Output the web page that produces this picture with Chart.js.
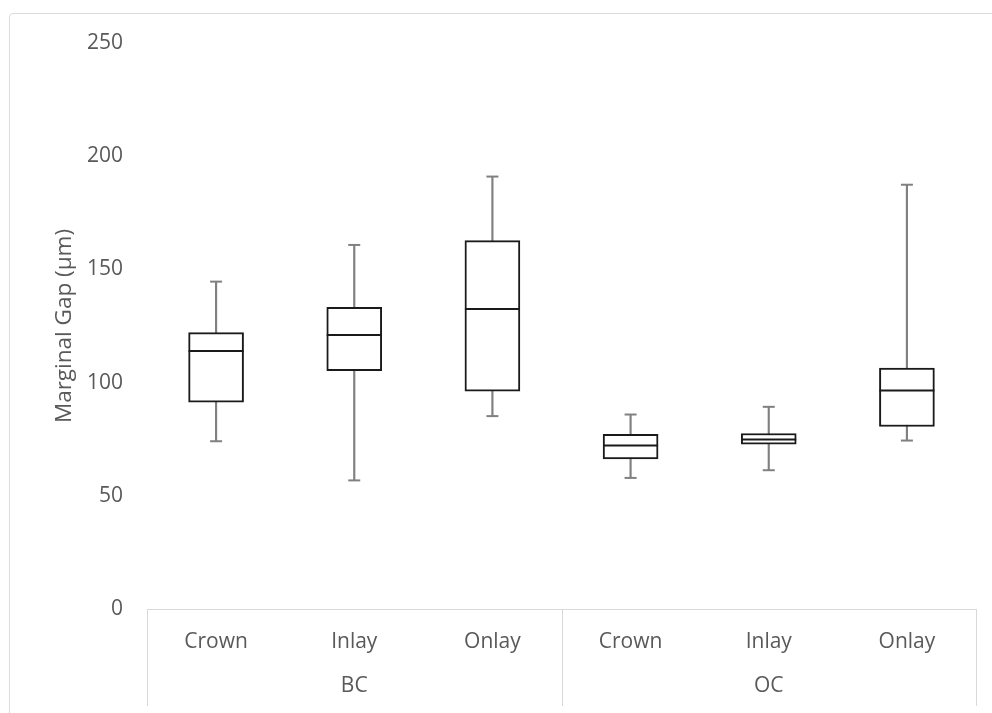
<!DOCTYPE html>
<html>
<head>
<meta charset="utf-8">
<script src="https://cdn.jsdelivr.net/npm/chart.js@4"></script>
<style>
    html, body { margin: 0; padding: 0; background: #fff; overflow: hidden; }
    #wrap { position: relative; width: 992px; height: 713px; }
    #frame { position: absolute; left: 9px; top: 13px; width: 1000px; height: 720px;
             border: 1px solid #dcdcdc; border-radius: 4px; }
    canvas { position: absolute; left: 0; top: 0; }
</style>
</head>
<body>
<div id="wrap">
    <div id="frame"></div>
    <canvas id="myChart" width="992" height="713"></canvas>
</div>
<script>
const categories = ['Crown', 'Inlay', 'Onlay', 'Crown', 'Inlay', 'Onlay'];
const groups = ['BC', 'OC'];

// box plot values (µm)
const whiskerLow = [74.1, 56.8, 85.2, 57.9, 61.3, 74.4];
const quartile1 = [91.4, 105.3, 96.2, 66.3, 72.8, 80.6];
const medians = [114.0, 121.0, 132.5, 72.2, 74.9, 96.5];
const quartile3 = [122.1, 133.3, 162.7, 77.1, 77.5, 106.4];
const whiskerHigh = [144.6, 160.8, 191.0, 85.9, 89.3, 187.4];

const yMin = 0;
const yMax = 250;
const yStep = 50;

const textColor = '#595959';
const lineGray = '#d9d9d9';
const whiskerColor = '#808080';
const boxColor = '#1a1a1a';

// vertical separators of the two-level category axis
const separators = {
    id: 'separators',
    afterDraw(chart) {
        const x = chart.scales.x;
        const ctx = chart.ctx;
        const top = chart.chartArea.bottom;
        const edges = [-0.5, categories.length / 2 - 0.5, categories.length - 0.5];
        ctx.save();
        ctx.strokeStyle = lineGray;
        ctx.lineWidth = 1;
        edges.forEach(v => {
            const px = Math.round(x.getPixelForValue(v)) + 0.5;
            ctx.beginPath();
            ctx.moveTo(px, top);
            ctx.lineTo(px, top + 97);
            ctx.stroke();
        });
        ctx.restore();
    }
};

function pointLine(data, color, radius, width) {
    return {
        type: 'line',
        data: data,
        showLine: false,
        pointStyle: 'line',
        pointRadius: radius,
        pointHoverRadius: radius,
        pointBorderColor: color,
        pointBorderWidth: width,
        order: 0
    };
}

const ctx = document.getElementById('myChart').getContext('2d');
new Chart(ctx, {
    type: 'bar',
    data: {
        labels: categories,
        datasets: [
            pointLine(medians, boxColor, 27.5, 2),
            pointLine(whiskerHigh, whiskerColor, 6, 2),
            pointLine(whiskerLow, whiskerColor, 6, 2),
            {
                data: quartile1.map((q, i) => [q, quartile3[i]]),
                backgroundColor: '#ffffff',
                borderColor: boxColor,
                borderWidth: 2,
                borderSkipped: false,
                barThickness: 55,
                grouped: false,
                order: 1
            },
            {
                data: whiskerLow.map((w, i) => [w, whiskerHigh[i]]),
                backgroundColor: whiskerColor,
                borderWidth: 0,
                barThickness: 1.5,
                grouped: false,
                order: 2
            }
        ]
    },
    options: {
        responsive: false,
        animation: false,
        events: [],
        layout: { autoPadding: false, padding: { left: 47, right: 16, top: 43, bottom: 0 } },
        plugins: { legend: { display: false }, tooltip: { enabled: false } },
        scales: {
            x: {
                type: 'category',
                offset: true,
                weight: 0,
                grid: { display: false, drawTicks: false },
                border: { display: true, color: lineGray, width: 1 },
                ticks: {
                    padding: 20,
                    color: textColor,
                    font: { family: 'Open Sans', size: 21 },
                    maxRotation: 0
                },
                afterFit: s => { s.height = 54; }
            },
            x2: {
                type: 'category',
                labels: groups,
                position: 'bottom',
                offset: true,
                weight: 1,
                grid: { display: false, drawTicks: false },
                border: { display: false },
                ticks: {
                    padding: 10,
                    color: textColor,
                    font: { family: 'Open Sans', size: 21 },
                    maxRotation: 0
                },
                afterFit: s => { s.height = 50; }
            },
            y: {
                min: yMin,
                max: yMax,
                grid: { display: false, drawTicks: false },
                border: { display: false },
                ticks: {
                    stepSize: yStep,
                    padding: 24,
                    color: textColor,
                    font: { family: 'Open Sans', size: 21 }
                },
                title: {
                    display: true,
                    text: 'Marginal Gap (µm)',
                    color: textColor,
                    font: { family: 'Open Sans', size: 22.5 },
                    padding: { top: 4, bottom: 4 }
                },
                afterFit: s => { s.width = 100; }
            }
        }
    },
    plugins: [separators]
});
</script>
</body>
</html>
